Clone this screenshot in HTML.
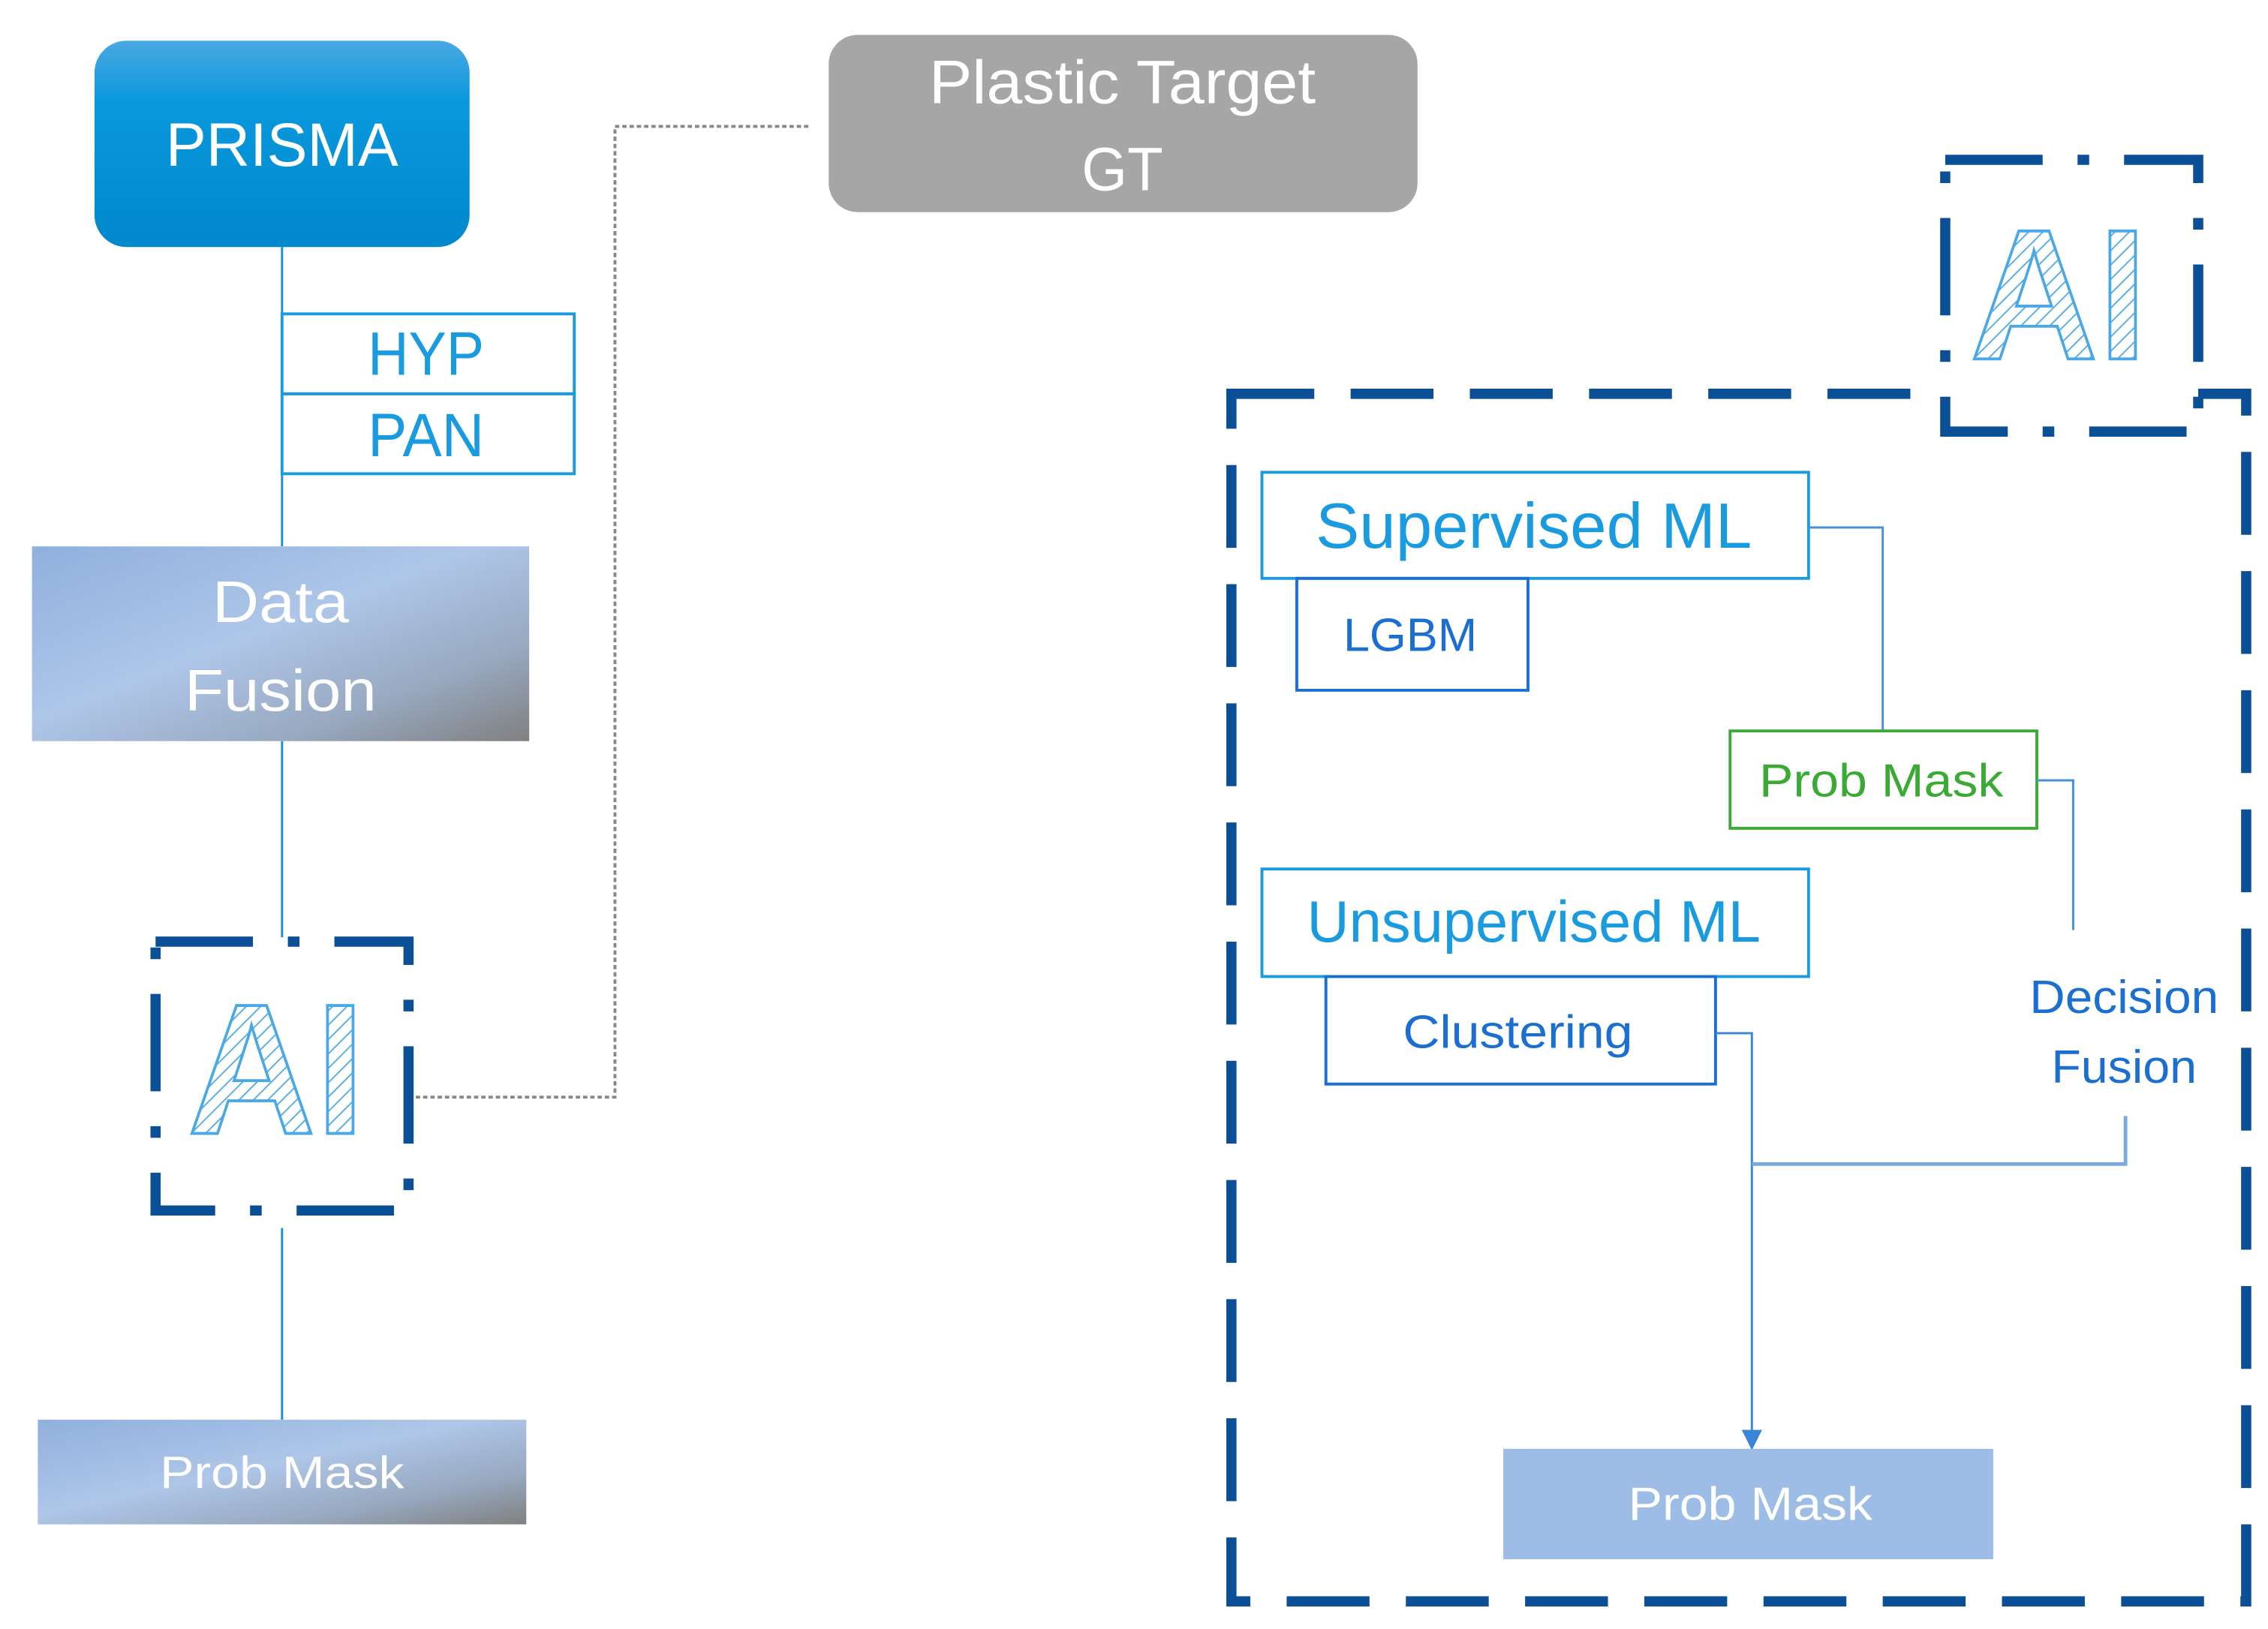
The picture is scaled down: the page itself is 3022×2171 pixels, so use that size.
<!DOCTYPE html>
<html><head><meta charset="utf-8"><style>
html,body{margin:0;padding:0;background:#fff;}
svg{display:block;}
text{font-family:"Liberation Sans Narrow","Liberation Sans",sans-serif;}
</style></head><body>
<svg width="3022" height="2171" viewBox="0 0 1560 1121" preserveAspectRatio="none" xmlns="http://www.w3.org/2000/svg">
<defs>
<linearGradient id="gP" x1="0" y1="0" x2="0" y2="1">
<stop offset="0" stop-color="#4aa8e2"/><stop offset="0.3" stop-color="#0a98dd"/><stop offset="1" stop-color="#0088cc"/></linearGradient>
<linearGradient id="gF" x1="0" y1="0" x2="1" y2="1">
<stop offset="0" stop-color="#8fb0de"/><stop offset="0.45" stop-color="#aec6e8"/><stop offset="0.75" stop-color="#98a9c0"/><stop offset="1" stop-color="#808080"/></linearGradient>
<pattern id="hatch" width="7" height="7" patternUnits="userSpaceOnUse" patternTransform="rotate(45)">
<rect width="7" height="7" fill="#fff"/><line x1="0" y1="0" x2="0" y2="7" stroke="#5aaee6" stroke-width="2"/></pattern>
</defs>

<!-- PRISMA -->
<rect x="65" y="28" width="258" height="142" rx="22" fill="url(#gP)"/>
<text x="194" y="114" font-size="42" fill="#fff" text-anchor="middle" textLength="160" lengthAdjust="spacingAndGlyphs">PRISMA</text>

<!-- left connectors -->
<line x1="194" y1="170" x2="194" y2="376" stroke="#1a8fdb" stroke-width="1.5"/>
<rect x="194" y="216" width="201" height="55" fill="none" stroke="#1a9be0" stroke-width="2"/>
<rect x="194" y="271" width="201" height="55" fill="none" stroke="#1a9be0" stroke-width="2"/>
<text x="293" y="258" font-size="42" fill="#1a9be0" text-anchor="middle" textLength="80" lengthAdjust="spacingAndGlyphs">HYP</text>
<text x="293" y="314" font-size="42" fill="#1a9be0" text-anchor="middle" textLength="80" lengthAdjust="spacingAndGlyphs">PAN</text>

<rect x="22" y="376" width="342" height="134" fill="url(#gF)"/>
<text x="193" y="428" font-size="40" fill="#fff" text-anchor="middle" textLength="94" lengthAdjust="spacingAndGlyphs">Data</text>
<text x="193" y="489" font-size="40" fill="#fff" text-anchor="middle" textLength="132" lengthAdjust="spacingAndGlyphs">Fusion</text>

<line x1="194" y1="510" x2="194" y2="645" stroke="#1a8fdb" stroke-width="1.5"/>
<line x1="194" y1="845" x2="194" y2="977" stroke="#1a8fdb" stroke-width="1.5"/>

<!-- Left AI box -->
<rect x="107" y="648" width="174" height="185" fill="#fff" stroke="#0b4f96" stroke-width="7" stroke-dasharray="67 24 8 24"/>
<text x="190" y="780" font-size="128" font-weight="bold" fill="url(#hatch)" stroke="#4aa8e6" stroke-width="2" text-anchor="middle" textLength="122" lengthAdjust="spacingAndGlyphs">AI</text>

<rect x="26" y="977" width="336" height="72" fill="url(#gF)"/>
<text x="194" y="1024" font-size="31" fill="#fff" text-anchor="middle" textLength="168" lengthAdjust="spacingAndGlyphs">Prob Mask</text>

<!-- dotted gray -->
<polyline points="286,755 423,755 423,87 558,87" fill="none" stroke="#888" stroke-width="2" stroke-dasharray="3 2"/>

<!-- Plastic Target -->
<rect x="570" y="24" width="405" height="122" rx="20" fill="#a6a6a6"/>
<text x="772" y="71" font-size="42" fill="#fff" text-anchor="middle" textLength="266" lengthAdjust="spacingAndGlyphs">Plastic Target</text>
<text x="772" y="131" font-size="42" fill="#fff" text-anchor="middle" textLength="56" lengthAdjust="spacingAndGlyphs">GT</text>

<!-- Big dashed box -->
<rect x="847" y="271" width="698" height="831" fill="none" stroke="#0b4f96" stroke-width="7" stroke-dasharray="57 25"/>

<!-- Right AI box -->
<rect x="1338" y="110" width="174" height="187" fill="#fff" stroke="none"/>
<rect x="1338" y="110" width="174" height="187" fill="none" stroke="#0b4f96" stroke-width="7" stroke-dasharray="67 24 8 24"/>
<text x="1416" y="247" font-size="128" font-weight="bold" fill="url(#hatch)" stroke="#4aa8e6" stroke-width="2" text-anchor="middle" textLength="122" lengthAdjust="spacingAndGlyphs">AI</text>

<!-- Supervised -->
<rect x="868" y="325" width="376" height="73" fill="#fff" stroke="#1a9be0" stroke-width="2"/>
<text x="1055" y="377" font-size="44" fill="#1a9be0" text-anchor="middle" textLength="300" lengthAdjust="spacingAndGlyphs">Supervised ML</text>
<rect x="892" y="398" width="159" height="77" fill="none" stroke="#1a6fd0" stroke-width="2"/>
<text x="970" y="448" font-size="32" fill="#1a6fd0" text-anchor="middle" textLength="92" lengthAdjust="spacingAndGlyphs">LGBM</text>

<polyline points="1244,363 1295,363 1295,503" fill="none" stroke="#4a8fdc" stroke-width="1.5"/>
<rect x="1190" y="503" width="211" height="67" fill="#fff" stroke="#3aaa35" stroke-width="2"/>
<text x="1294" y="548" font-size="32" fill="#3aaa35" text-anchor="middle" textLength="168" lengthAdjust="spacingAndGlyphs">Prob Mask</text>
<polyline points="1401,537 1426,537 1426,640" fill="none" stroke="#4a8fdc" stroke-width="1.5"/>

<text x="1461" y="697" font-size="32" fill="#1a6fd0" text-anchor="middle" textLength="130" lengthAdjust="spacingAndGlyphs">Decision</text>
<text x="1461" y="745" font-size="32" fill="#1a6fd0" text-anchor="middle" textLength="100" lengthAdjust="spacingAndGlyphs">Fusion</text>

<!-- Unsupervised -->
<rect x="868" y="598" width="376" height="74" fill="#fff" stroke="#1a9be0" stroke-width="2"/>
<text x="1055" y="648" font-size="40" fill="#1a9be0" text-anchor="middle" textLength="312" lengthAdjust="spacingAndGlyphs">Unsupervised ML</text>
<rect x="912" y="672" width="268" height="74" fill="none" stroke="#1a6fd0" stroke-width="2"/>
<text x="1044" y="721" font-size="32" fill="#1a6fd0" text-anchor="middle" textLength="158" lengthAdjust="spacingAndGlyphs">Clustering</text>

<polyline points="1180,711 1205,711 1205,988" fill="none" stroke="#3a85d8" stroke-width="1.5"/>
<polyline points="1205,801 1462,801 1462,768" fill="none" stroke="#7aa8e0" stroke-width="2.5"/>
<polygon points="1198,984 1212,984 1205,998" fill="#3a85d8"/>

<rect x="1034" y="997" width="337" height="76" fill="#9dbde6"/>
<text x="1204" y="1046" font-size="32" fill="#fff" text-anchor="middle" textLength="168" lengthAdjust="spacingAndGlyphs">Prob Mask</text>
</svg>
</body></html>
